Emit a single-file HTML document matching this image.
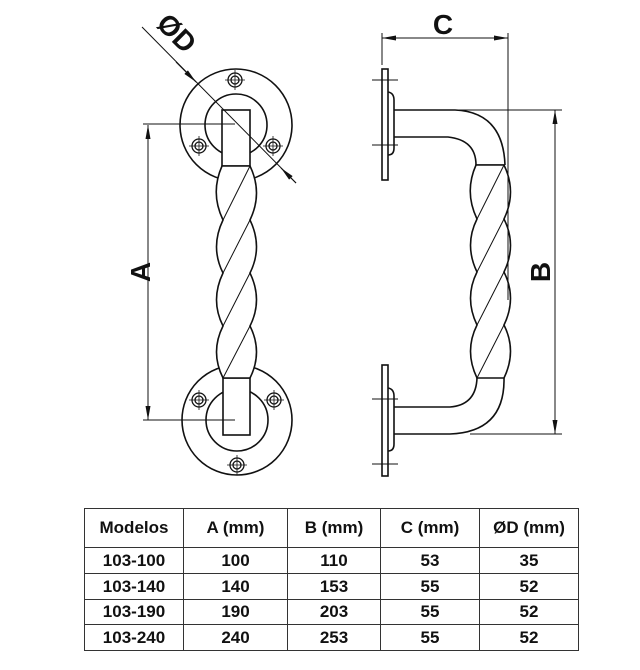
<!DOCTYPE html>
<html><head><style>
body{margin:0;background:#fff;width:640px;height:670px;overflow:hidden}
svg{position:absolute;left:0;top:0}
table{position:absolute;left:84px;top:508px;width:494px;table-layout:fixed;border-collapse:collapse;font-family:"Liberation Sans",sans-serif;font-weight:bold;font-size:17px;color:#111}
td{border:1.5px solid #333;text-align:center;padding:0}
</style></head><body>
<svg width="640" height="670" viewBox="0 0 640 670" fill="none" stroke="#111" stroke-width="1.6">
<defs><marker id="ar" viewBox="0 0 14 5" refX="14" refY="2.5" markerWidth="14" markerHeight="5" markerUnits="userSpaceOnUse" orient="auto-start-reverse"><path d="M0,0L14,2.5L0,5z" fill="#111" stroke="none"/></marker></defs>
<circle cx="236" cy="125" r="56"/>
<circle cx="236" cy="125" r="31"/>
<g stroke-width="1.3">
<circle cx="235" cy="80" r="7"/><circle cx="235" cy="80" r="4"/><path d="M225,80h20M235,70v20" stroke-width="0.8"/>
<circle cx="199" cy="146" r="7"/><circle cx="199" cy="146" r="4"/><path d="M189,146h20M199,136v20" stroke-width="0.8"/>
<circle cx="273" cy="146" r="7"/><circle cx="273" cy="146" r="4"/><path d="M263,146h20M273,136v20" stroke-width="0.8"/>
</g>
<rect x="222" y="110" width="28" height="56" fill="#fff"/>
<circle cx="237" cy="420" r="55"/>
<circle cx="237" cy="420" r="31"/>
<g stroke-width="1.3">
<circle cx="199" cy="400" r="7"/><circle cx="199" cy="400" r="4"/><path d="M189,400h20M199,390v20" stroke-width="0.8"/>
<circle cx="274" cy="400" r="7"/><circle cx="274" cy="400" r="4"/><path d="M264,400h20M274,390v20" stroke-width="0.8"/>
<circle cx="237" cy="465" r="7"/><circle cx="237" cy="465" r="4"/><path d="M227,465h20M237,455v20" stroke-width="0.8"/>
</g>
<rect x="223" y="378" width="27" height="57" fill="#fff"/>
<path d="M222,166 Q210,193 223,220 Q210,247 223,273 Q210,300 223,326 Q210,352 223,378 L250,378 Q263,352 250,326 Q263,300 250,273 Q263,247 250,220 Q263,193 250,166 Z" fill="#fff"/>
<path d="M250,166L223,220M250,220L223,273M250,273L223,326M250,326L223,378" stroke-width="1"/>
<path d="M143,124H235M143,420H235" stroke-width="1"/>
<path d="M148,125V420" stroke-width="1" marker-start="url(#ar)" marker-end="url(#ar)"/>
<path d="M142,27L296,183" stroke-width="1"/>
<path d="M176,62L196,82" stroke-width="1" marker-end="url(#ar)"/>
<path d="M296,183L281,168" stroke-width="1" marker-end="url(#ar)"/>
<rect x="382" y="69" width="6" height="111" fill="#fff"/>
<path d="M388,92 Q394,93 394,100 V148 Q394,155 388,155"/>
<path d="M372,80H398M372,145H398" stroke-width="1"/>
<path d="M394,110H455 Q503,112 505,165 M394,137H448 Q476,140 476,165"/>
<path d="M476,165H505"/>
<path d="M476,165 Q464,192 477,219 Q464,245 477,272 Q464,298 477,325 Q464,351 477,378 L504,378 Q517,351 504,325 Q517,298 504,272 Q517,245 504,219 Q517,192 504,165 Z" fill="#fff"/>
<path d="M504,165L477,219M504,219L477,272M504,272L477,325M504,325L477,378" stroke-width="1"/>
<rect x="382" y="365" width="6" height="111" fill="#fff"/>
<path d="M388,388 Q394,389 394,396 V444 Q394,451 388,451"/>
<path d="M372,399H398M372,464H398" stroke-width="1"/>
<path d="M394,407H450 Q476,405 477,378 M394,434H450 Q505,432 504,378"/>
<path d="M382,33V65M508,33V300" stroke-width="1"/>
<path d="M382,38H508" stroke-width="1" marker-start="url(#ar)" marker-end="url(#ar)"/>
<path d="M455,110H562M470,434H562" stroke-width="1"/>
<path d="M555,110V434" stroke-width="1" marker-start="url(#ar)" marker-end="url(#ar)"/>
<g fill="#111" stroke="none" font-family="Liberation Sans, sans-serif" font-weight="bold" font-size="28">
<text x="443" y="34" text-anchor="middle">C</text>
<text transform="translate(150,272) rotate(-90)" text-anchor="middle">A</text>
<text transform="translate(550,272) rotate(-90)" text-anchor="middle">B</text>
<text transform="translate(170,40) rotate(45)" text-anchor="middle">ØD</text>
</g>
</svg>
<table>
<colgroup><col style="width:99px"><col style="width:104px"><col style="width:93px"><col style="width:99px"><col style="width:99px"></colgroup>
<tr style="height:39px"><td>Modelos</td><td>A (mm)</td><td>B (mm)</td><td>C (mm)</td><td>ØD (mm)</td></tr>
<tr style="height:26px"><td>103-100</td><td>100</td><td>110</td><td>53</td><td>35</td></tr>
<tr style="height:26px"><td>103-140</td><td>140</td><td>153</td><td>55</td><td>52</td></tr>
<tr style="height:25px"><td>103-190</td><td>190</td><td>203</td><td>55</td><td>52</td></tr>
<tr style="height:26px"><td>103-240</td><td>240</td><td>253</td><td>55</td><td>52</td></tr>
</table>
</body></html>
